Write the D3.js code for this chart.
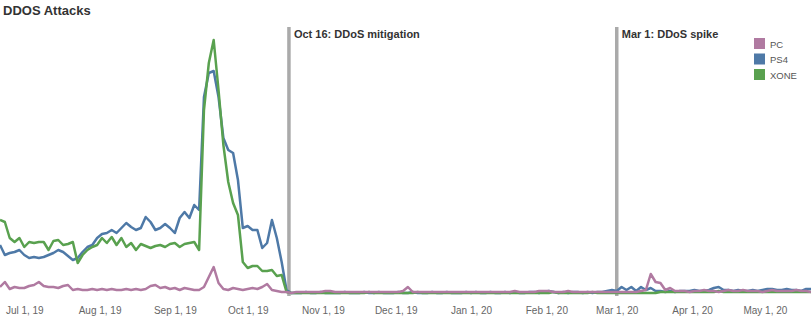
<!DOCTYPE html>
<html>
<head>
<meta charset="utf-8">
<script src="https://cdnjs.cloudflare.com/ajax/libs/d3/7.8.5/d3.min.js"></script>
<style>
  body { margin: 0; background: #fff; }
  text { font-family: "Liberation Sans", Arial, sans-serif; }
</style>
</head>
<body>
<div id="chart"></div>
<script>
var width = 811,
    height = 318;

// one value every 2 days, starting Jun 21, 2019
var startDate = new Date(2019, 5, 21);
var stepDays = 2;

var pcValues = [
  6,11,4,6,5,5,7,8,11,7, 6,6,5,7,8,3,4,3,3,4,
  3,4,3,4,3,3,4,3,4,3, 4,7,8,5,6,4,5,3,5,4,
  3,3,6,16,26,10,4,3,5,4, 3,4,5,4,6,9,3,2,1,1,
  0,1,1,1,1,1,1,2,2,1, 1,1,1,1,1,1,1,1,1,1,
  1,1,1,2,6,1,1,1,1,1, 1,1,1,1,1,1,1,1,1,1,
  1,1,1,1,1,1,2,1,1,1, 1,2,2,2,1,1,1,2,1,1,
  1,1,1,1,1,1,1,
  1,1,1,1,1,2,3,19,11,10, 3,5,2,2,2,1,2,2,3,2,
  2,1,2,3,2,2,3,2,2,2, 1,2,3,2,2,2,2,3,2,2, 1
];

var ps4Values = [
  48,38,40,41,43,38,35,36,35,36, 38,40,43,41,37,33,35,41,46,48,
  55,59,60,63,60,65,70,66,63,65, 76,71,63,65,69,65,60,75,81,75,
  88,83,196,220,222,196,155,143,140,113, 65,67,63,63,45,50,73,55,31,3,
  0,0,0,1,0,0,1,0,0,0, 0,1,0,0,0,1,0,0,1,0,
  0,0,1,0,0,1,0,0,0,1, 0,0,1,0,0,0,1,0,1,0,
  0,1,0,0,1,0,1,0,0,1, 1,0,1,2,1,0,1,0,1,1,
  0,1,0,1,1,2,3,
  2,6,3,6,2,6,3,5,2,2, 1,2,1,2,2,2,3,2,2,3,
  5,6,3,3,2,3,2,2,3,2, 3,4,4,3,3,4,3,3,2,4, 4
];

var xoneValues = [
  73,71,55,51,55,46,51,50,51,51, 43,52,53,48,49,51,30,38,43,46,
  48,55,50,56,48,55,46,50,43,49, 47,45,47,48,46,49,50,46,49,50,
  51,43,183,230,253,203,148,111,90,78, 31,25,27,27,22,22,23,17,18,1,
  0,0,0,0,0,0,0,0,0,0, 0,0,0,0,0,0,1,0,0,0,
  0,0,0,0,0,0,1,0,0,0, 0,0,0,0,0,0,0,0,0,0,
  0,0,0,0,0,0,0,0,0,0, 0,0,0,0,1,0,0,0,0,0,
  0,0,1,0,0,0,0,
  0,0,0,0,0,0,0,0,0,1, 1,1,1,1,1,1,1,1,1,1,
  1,2,1,1,1,1,1,1,1,1, 1,1,1,1,1,1,1,1,1,1, 1
];

var seriesNames = ["PC", "PS4", "XONE"];
var seriesColors = ["#b07aa1", "#4e79a7", "#59a14f"];

var annotations = [
  { date: new Date(2019, 9, 18), label: "Oct 16: DDoS mitigation" },
  { date: new Date(2020, 2, 1), label: "Mar 1: DDoS spike" }
];

function toPoints(values) {
  return values.map(function(v, i) {
    return { date: d3.timeDay.offset(startDate, i * stepDays), value: v };
  });
}

var series = [
  { name: "PS4", color: seriesColors[1], points: toPoints(ps4Values) },
  { name: "XONE", color: seriesColors[2], points: toPoints(xoneValues) },
  { name: "PC", color: seriesColors[0], points: toPoints(pcValues) }
];

var svg = d3.select("#chart")
  .append("svg")
  .attr("width", width)
  .attr("height", height);

var x = d3.scaleTime()
  .domain([new Date(2019, 5, 21), new Date(2020, 4, 20)])
  .range([0, width]);

var y = d3.scaleLinear()
  .domain([0, 260])
  .range([293, 33]);

// title
svg.append("text")
  .attr("x", 3)
  .attr("y", 15)
  .style("font-size", "13px")
  .style("font-weight", "bold")
  .attr("fill", "#333")
  .text("DDOS Attacks");

// x axis
var xAxis = svg.append("g")
  .attr("transform", "translate(0,297)")
  .call(d3.axisBottom(x)
    .ticks(d3.timeMonth.every(1))
    .tickFormat(d3.timeFormat("%b %-d, %y"))
    .tickSize(0)
    .tickPadding(10));

xAxis.select(".domain").remove();
xAxis.selectAll("text")
  .style("font-family", "'Liberation Sans', Arial, sans-serif")
  .style("font-size", "10px")
  .attr("fill", "#666");

// reference lines
var refs = svg.selectAll(".ref")
  .data(annotations)
  .enter().append("g")
  .attr("class", "ref");

refs.append("line")
  .attr("x1", function(d) { return x(d.date); })
  .attr("x2", function(d) { return x(d.date); })
  .attr("y1", 27)
  .attr("y2", 296)
  .attr("stroke", "#aaa")
  .attr("stroke-width", 3.5);

refs.append("text")
  .attr("x", function(d) { return x(d.date) + 5; })
  .attr("y", 38)
  .style("font-size", "11px")
  .style("font-weight", "bold")
  .attr("fill", "#333")
  .text(function(d) { return d.label; });

// lines
var line = d3.line()
  .x(function(d) { return x(d.date); })
  .y(function(d) { return y(d.value); });

svg.selectAll(".series")
  .data(series)
  .enter().append("path")
  .attr("class", "series")
  .attr("d", function(d) { return line(d.points); })
  .attr("fill", "none")
  .attr("stroke", function(d) { return d.color; })
  .attr("stroke-width", 2.5)
  .attr("stroke-linejoin", "round");

// legend
var legend = svg.selectAll(".legend")
  .data(seriesNames)
  .enter().append("g")
  .attr("class", "legend")
  .attr("transform", function(d, i) { return "translate(754," + (38 + i * 15.5) + ")"; });

legend.append("rect")
  .attr("width", 11)
  .attr("height", 11)
  .attr("fill", function(d, i) { return seriesColors[i]; });

legend.append("text")
  .attr("x", 16)
  .attr("y", 9.5)
  .style("font-size", "9.5px")
  .attr("fill", "#555")
  .text(function(d) { return d; });
</script>
</body>
</html>
